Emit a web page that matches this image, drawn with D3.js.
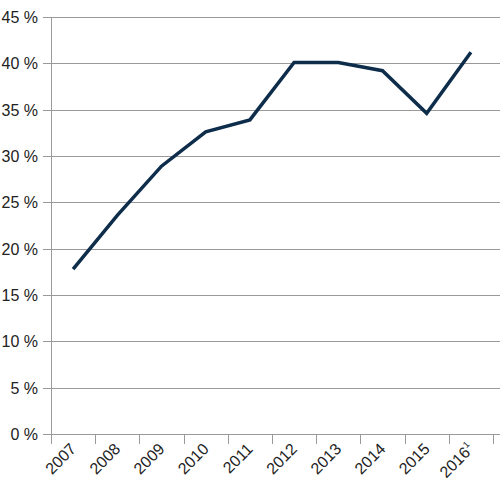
<!DOCTYPE html>
<html>
<head>
<meta charset="utf-8">
<script src="https://cdnjs.cloudflare.com/ajax/libs/d3/7.8.5/d3.min.js"></script>
<style>
  body { margin: 0; background: #fff; }
  svg { display: block; font-family: "Liberation Sans", Arial, sans-serif; }
</style>
</head>
<body>
<div id="chart"></div>
<script>
var years = ["2007", "2008", "2009", "2010", "2011", "2012", "2013", "2014", "2015", "2016"];
var yearNotes = ["", "", "", "", "", "", "", "", "", "1"];
var shares = [17.8, 23.6, 28.9, 32.6, 33.9, 40.1, 40.1, 39.2, 34.6, 41.2];
var yTicks = [0, 5, 10, 15, 20, 25, 30, 35, 40, 45];

var width = 500, height = 491;
var plotLeft = 51, plotRight = 493, plotTop = 17, plotBottom = 434;
var lineColor = "#0e2d4b";
var gridColor = "#9a9a9a";

var svg = d3.select("#chart").append("svg")
	.attr("width", width)
	.attr("height", height);

var x = d3.scaleBand()
	.domain(years)
	.range([plotLeft, plotRight])
	.padding(0);

var y = d3.scaleLinear()
	.domain([0, 45])
	.range([plotBottom, plotTop]);

// horizontal grid lines + y labels
svg.selectAll("line.grid")
	.data(yTicks)
	.enter()
	.append("line")
	.attr("class", "grid")
	.attr("x1", plotLeft - 8)
	.attr("x2", width)
	.attr("y1", function(d) { return Math.round(y(d)) + 0.5; })
	.attr("y2", function(d) { return Math.round(y(d)) + 0.5; })
	.attr("stroke", gridColor)
	.attr("stroke-width", 1);

svg.selectAll("text.ylab")
	.data(yTicks)
	.enter()
	.append("text")
	.attr("class", "ylab")
	.attr("x", plotLeft - 13)
	.attr("y", function(d) { return y(d) + 6; })
	.attr("text-anchor", "end")
	.attr("font-size", 16)
	.attr("fill", "#222")
	.text(function(d) { return d + " %"; });

// y axis line
svg.append("line")
	.attr("x1", plotLeft + 0.5).attr("x2", plotLeft + 0.5)
	.attr("y1", plotTop).attr("y2", plotBottom)
	.attr("stroke", gridColor);

// x ticks at band edges
var edges = years.map(function(d) { return x(d); }).concat([plotRight]);
svg.selectAll("line.xtick")
	.data(edges)
	.enter()
	.append("line")
	.attr("class", "xtick")
	.attr("x1", function(d) { return Math.round(d) + 0.5; })
	.attr("x2", function(d) { return Math.round(d) + 0.5; })
	.attr("y1", plotBottom)
	.attr("y2", plotBottom + 10)
	.attr("stroke", gridColor);

// x labels, rotated
var xl = svg.selectAll("text.xlab")
	.data(years)
	.enter()
	.append("text")
	.attr("class", "xlab")
	.attr("text-anchor", "end")
	.attr("font-size", 16)
	.attr("fill", "#222")
	.attr("transform", function(d) {
		return "translate(" + (x(d) + x.bandwidth() / 2 + 4) + "," + (plotBottom + 16) + ") rotate(-45)";
	});
xl.append("tspan").text(function(d) { return d; });
xl.append("tspan")
	.attr("font-size", 9)
	.attr("dy", -7)
	.text(function(d, i) { return yearNotes[i]; });

// the line
var line = d3.line()
	.x(function(d, i) { return x(years[i]) + x.bandwidth() / 2; })
	.y(function(d) { return y(d); });

svg.append("path")
	.datum(shares)
	.attr("d", line)
	.attr("fill", "none")
	.attr("stroke", lineColor)
	.attr("stroke-width", 3.5)
	.attr("stroke-linejoin", "miter");
</script>
</body>
</html>
